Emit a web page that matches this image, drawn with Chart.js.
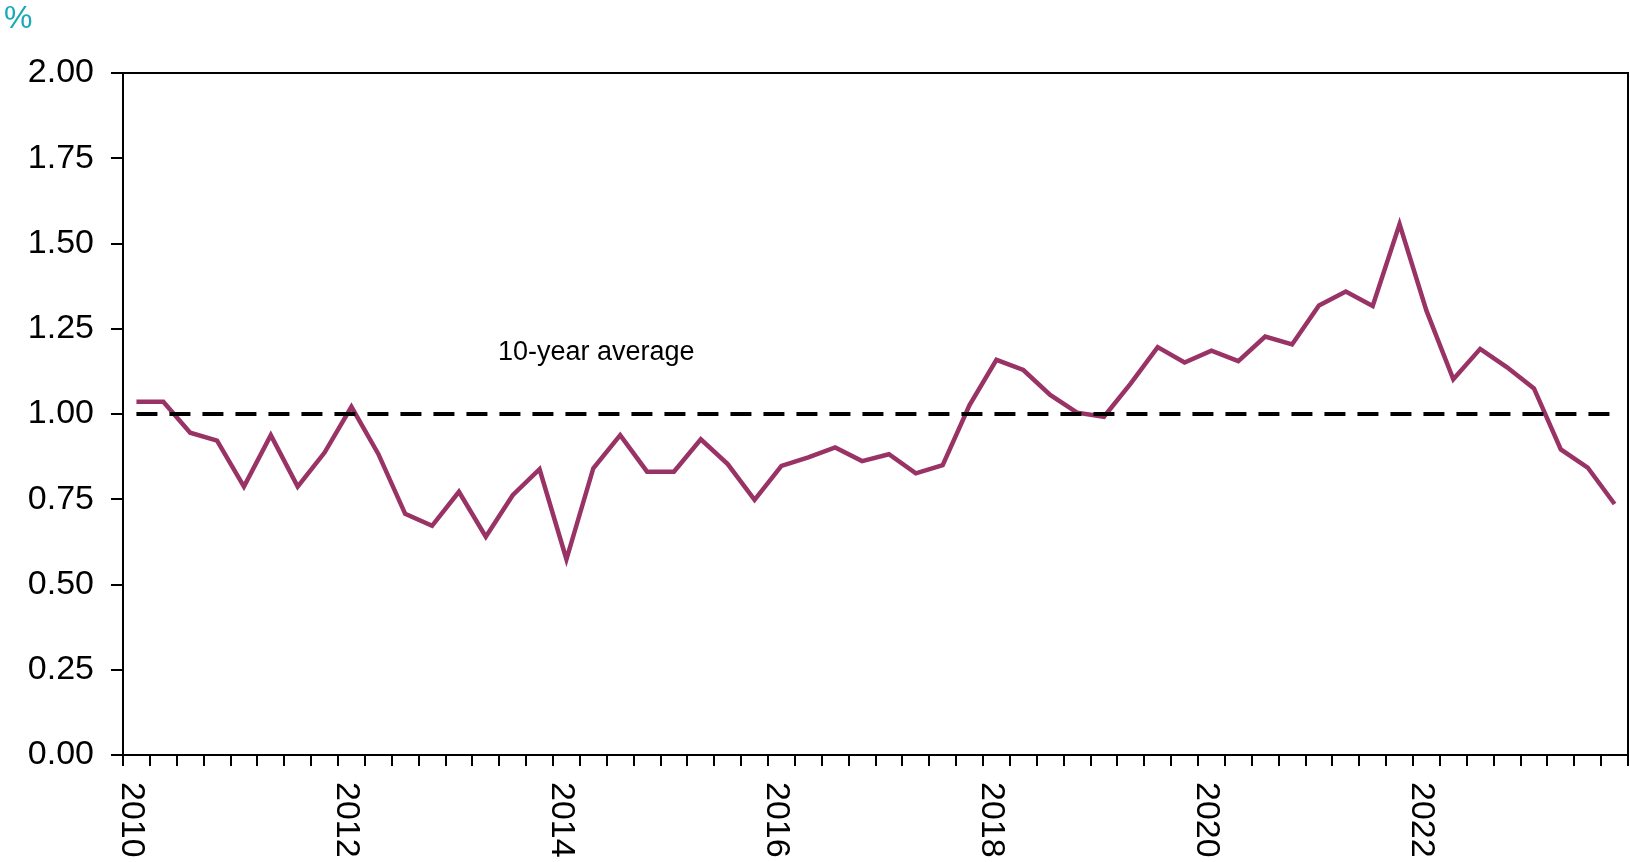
<!DOCTYPE html>
<html>
<head>
<meta charset="utf-8">
<title>Ratio vs 10-year average</title>
<script src="https://cdn.jsdelivr.net/npm/chart.js@4.4.1/dist/chart.umd.min.js"></script>
<style>
  html, body { margin: 0; padding: 0; background: #fff; }
  canvas { display: block; }
</style>
</head>
<body>
<canvas id="ratioChart" width="1630" height="862"></canvas>
<script>
// quarterly data, 2010 Q1 .. 2023 Q4
const years = ['2010', '2011', '2012', '2013', '2014', '2015', '2016',
               '2017', '2018', '2019', '2020', '2021', '2022', '2023'];
const quarters = [];
years.forEach(y => ['Q1', 'Q2', 'Q3', 'Q4'].forEach(q => quarters.push(y + ' ' + q)));

const ratio = [
    1.036, 1.036, 0.945, 0.922,
    0.787, 0.938, 0.787, 0.887,
    1.021, 0.883, 0.707, 0.672,
    0.772, 0.640, 0.762, 0.838,
    0.574, 0.841, 0.938, 0.831,
    0.831, 0.926, 0.853, 0.748,
    0.848, 0.873, 0.902, 0.862,
    0.882, 0.826, 0.850, 1.026,
    1.159, 1.129, 1.056, 1.004,
    0.992, 1.090, 1.196, 1.151,
    1.186, 1.155, 1.227, 1.204,
    1.318, 1.359, 1.317, 1.557,
    1.303, 1.102, 1.191, 1.137,
    1.075, 0.896, 0.843, 0.736
];
const tenYearAverage = 1.00;
const yearLabels = ['2010', '2012', '2014', '2016', '2018', '2020', '2022'];

const FONT = '"Liberation Sans", Arial, sans-serif';
Chart.defaults.font.family = FONT;

// year labels read top-to-bottom, plus the box, unit and annotation text
const extrasPlugin = {
    id: 'extras',
    afterDraw(chart) {
        const ctx = chart.ctx;
        const area = chart.chartArea;
        const xs = chart.scales.x;
        const ys = chart.scales.y;

        ctx.save();
        // top and right border of the plot box
        ctx.strokeStyle = '#000';
        ctx.lineWidth = 2;
        ctx.beginPath();
        ctx.moveTo(area.left, area.top);
        ctx.lineTo(area.right, area.top);
        ctx.lineTo(area.right, area.bottom);
        ctx.stroke();

        // year labels at the boundary before Q1
        const step = xs.getPixelForValue(1) - xs.getPixelForValue(0);
        ctx.fillStyle = '#000';
        ctx.font = '34px ' + FONT;
        ctx.textAlign = 'left';
        ctx.textBaseline = 'middle';
        yearLabels.forEach(label => {
            const idx = quarters.indexOf(label + ' Q1');
            const bx = xs.getPixelForValue(idx) - step / 2;
            ctx.save();
            ctx.translate(bx + 8, area.bottom + 27);
            ctx.rotate(Math.PI / 2);
            ctx.fillText(label, 0, 0);
            ctx.restore();
        });

        // unit
        ctx.fillStyle = '#17a9b7';
        ctx.font = '32px ' + FONT;
        ctx.textBaseline = 'alphabetic';
        ctx.fillText('%', 4, 28);

        // annotation for the dashed line
        ctx.fillStyle = '#000';
        ctx.font = '27px ' + FONT;
        ctx.textAlign = 'center';
        ctx.textBaseline = 'middle';
        ctx.fillText('10-year average', xs.getPixelForValue(17) + 3, ys.getPixelForValue(1.18));
        ctx.restore();
    }
};

const ctx = document.getElementById('ratioChart').getContext('2d');
new Chart(ctx, {
    type: 'line',
    data: {
        labels: quarters,
        datasets: [
            {
                label: '10-year average',
                data: quarters.map(() => tenYearAverage),
                borderColor: '#000',
                borderWidth: 4,
                borderDash: [21, 12],
                pointRadius: 0,
                fill: false,
                order: 0
            },
            {
                label: 'Ratio',
                data: ratio,
                borderColor: '#993366',
                borderWidth: 4.5,
                pointRadius: 0,
                tension: 0,
                fill: false,
                order: 1
            }
        ]
    },
    options: {
        responsive: false,
        animation: false,
        devicePixelRatio: 1,
        layout: { padding: { top: 73, right: 2, bottom: 0, left: 0 } },
        plugins: {
            legend: { display: false },
            tooltip: { enabled: false }
        },
        scales: {
            x: {
                type: 'category',
                offset: true,
                grid: {
                    offset: true,
                    drawOnChartArea: false,
                    drawTicks: true,
                    tickLength: 11,
                    color: '#000',
                    lineWidth: 2
                },
                border: { color: '#000', width: 2 },
                ticks: { display: false, autoSkip: false },
                afterFit(scale) { scale.height = 107; }
            },
            y: {
                min: 0,
                max: 2,
                grid: {
                    drawOnChartArea: false,
                    drawTicks: true,
                    tickLength: 12,
                    color: '#000',
                    lineWidth: 2
                },
                border: { color: '#000', width: 2 },
                ticks: {
                    stepSize: 0.25,
                    autoSkip: false,
                    padding: 17,
                    color: '#000',
                    font: { size: 34 },
                    callback: v => v.toFixed(2)
                },
                afterFit(scale) { scale.width = 123; }
            }
        }
    },
    plugins: [extrasPlugin]
});
</script>
</body>
</html>
